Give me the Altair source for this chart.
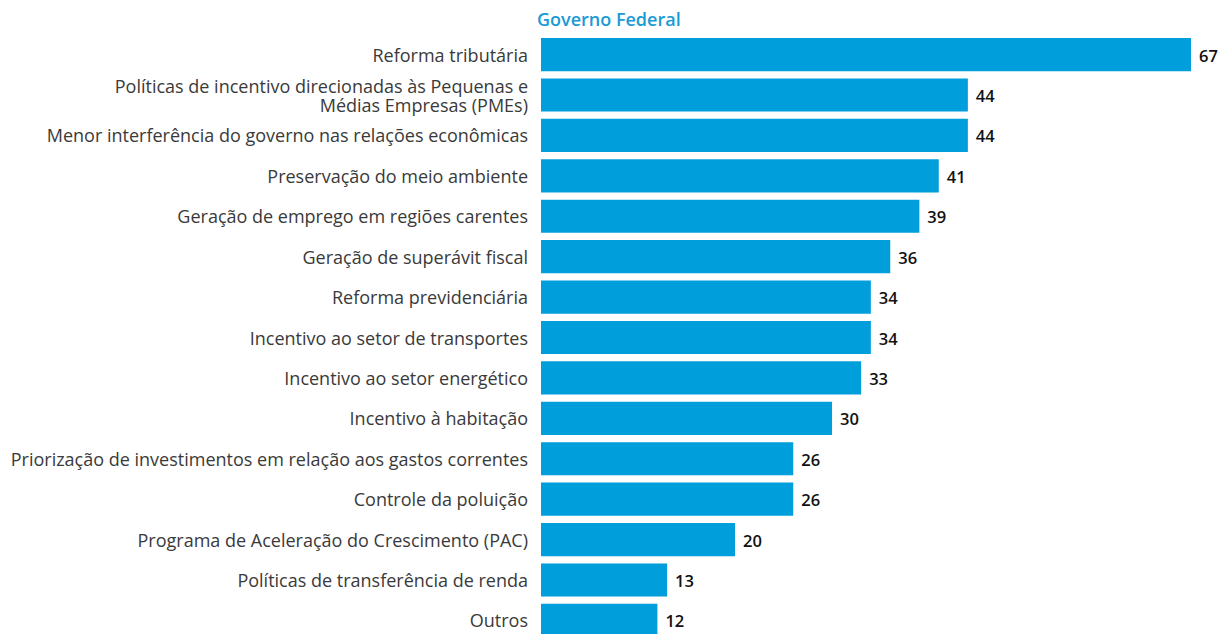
import altair as alt
import pandas as pd

categories = [
    "Reforma tributária",
    "Políticas de incentivo direcionadas às Pequenas e\nMédias Empresas (PMEs)",
    "Menor interferência do governo nas relações econômicas",
    "Preservação do meio ambiente",
    "Geração de emprego em regiões carentes",
    "Geração de superávit fiscal",
    "Reforma previdenciária",
    "Incentivo ao setor de transportes",
    "Incentivo ao setor energético",
    "Incentivo à habitação",
    "Priorização de investimentos em relação aos gastos correntes",
    "Controle da poluição",
    "Programa de Aceleração do Crescimento (PAC)",
    "Políticas de transferência de renda",
    "Outros",
]
values = [67, 44, 44, 41, 39, 36, 34, 34, 33, 30, 26, 26, 20, 13, 12]

df = pd.DataFrame({"cat": categories, "val": values})

FONT = "Open Sans"
BLUE = "#009EDB"

y = alt.Y("cat:N", sort=categories, axis=None,
          scale=alt.Scale(domain=categories, paddingInner=0.18, paddingOuter=0.0))
x = alt.X("val:Q", axis=None, scale=alt.Scale(domain=[0, 67], nice=False, zero=True))

base = alt.Chart(df)

bars = base.mark_bar(color=BLUE).encode(x=x, y=y)

vals = base.mark_text(align="left", baseline="middle", dx=8, dy=2, font=FONT,
                      fontSize=16.5, fontWeight=600, color="#111111").encode(
    x=x, y=y, text=alt.Text("val:Q"))

labels_single = base.transform_filter("indexof(datum.cat, '\\n') < 0").mark_text(
    align="right", baseline="middle", dy=2, font=FONT, fontSize=18,
    color="#3a3a3a").encode(x=alt.value(-13), y=y, text=alt.Text("cat:N"))

labels_multi = base.transform_filter("indexof(datum.cat, '\\n') >= 0").mark_text(
    align="right", baseline="middle", dy=-6.5, font=FONT, fontSize=18,
    color="#3a3a3a", lineBreak="\n", lineHeight=19).encode(
    x=alt.value(-13), y=y, text=alt.Text("cat:N"))

chart = alt.layer(bars, vals, labels_single, labels_multi).properties(
    width=650, height=599,
    title=alt.TitleParams("Governo Federal", anchor="start", frame="group",
                          font=FONT, fontSize=18, fontWeight=600, color="#1A9AD6",
                          dx=-4, offset=8),
    autosize=alt.AutoSizeParams(type="none"),
    padding={"left": 541, "top": 38, "right": 31, "bottom": 0},
).configure_view(stroke=None)

chart.save("out.html", embed_options={"renderer": "svg", "actions": False})
